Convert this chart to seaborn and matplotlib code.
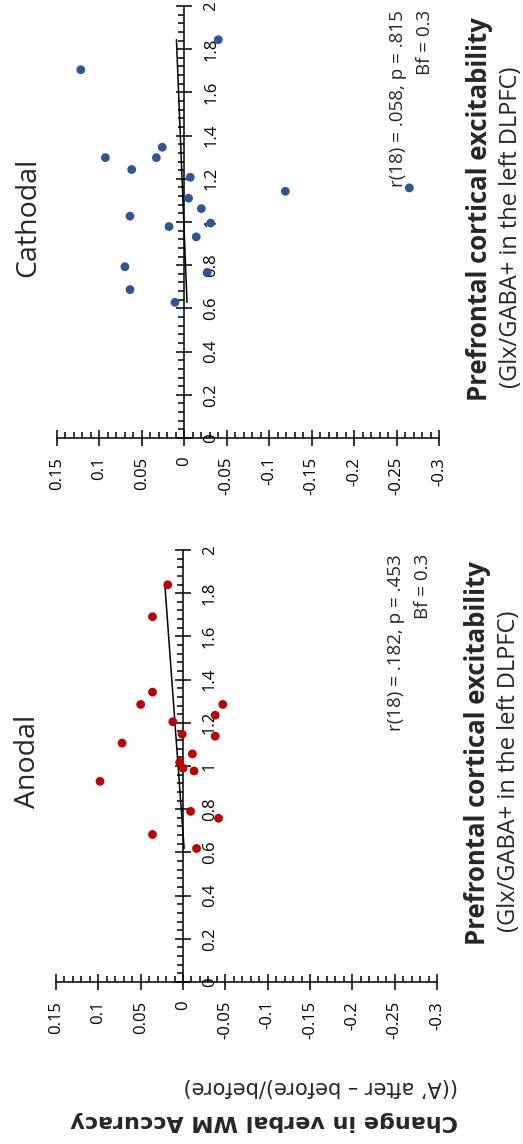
import matplotlib
matplotlib.use("Agg")
import matplotlib.pyplot as plt
import numpy as np
import seaborn as sns

# data: excitability (Glx/GABA+) and change in WM accuracy per participant
anodal_exc = [1.839, 1.691, 1.342, 1.285, 1.285, 1.205, 1.235, 1.147, 1.138, 1.106,
              1.056, 1.017, 0.990, 0.977, 0.929, 0.790, 0.758, 0.683, 0.618]
anodal_change = [0.018, 0.036, 0.036, 0.050, -0.047, 0.012, -0.038, 0.001, -0.038, 0.072,
                 -0.011, 0.004, 0.000, -0.013, 0.098, -0.009, -0.042, 0.036, -0.016]

cathodal_exc = [1.705, 1.844, 1.298, 1.298, 1.346, 1.243, 1.207, 1.110, 1.062, 1.027,
                0.979, 0.995, 0.931, 0.793, 0.767, 0.687, 0.628, 1.142, 1.158]
cathodal_change = [0.122, -0.040, 0.093, 0.033, 0.026, 0.062, -0.007, -0.005, -0.020, 0.064,
                   0.018, -0.031, -0.014, 0.070, -0.027, 0.064, 0.011, -0.119, -0.265]

anodal_stats = ["r(18) = .182, p = .453", "Bf = 0.3"]
cathodal_stats = ["r(18) = .058, p = .815", "Bf = 0.3"]

exc_ticks = [0, 0.2, 0.4, 0.6, 0.8, 1.0, 1.2, 1.4, 1.6, 1.8, 2.0]
exc_labels = ["0", "0.2", "0.4", "0.6", "0.8", "1", "1.2", "1.4", "1.6", "1.8", "2"]
change_ticks = [0.15, 0.1, 0.05, 0, -0.05, -0.1, -0.15, -0.2, -0.25, -0.3]
change_labels = ["0.15", "0.1", "0.05", "0", "-0.05", "-0.1", "-0.15", "-0.2", "-0.25", "-0.3"]

sns.set_style("ticks")
plt.rcParams['font.family'] = ['Open Sans', 'DejaVu Sans']

W, H = 523, 1144
fig = plt.figure(figsize=(W / 100, H / 100), dpi=100)


def box(x0, y0, x1, y1):
    # pixel box (top-left origin) -> figure fraction rect
    return [x0 / W, 1 - y1 / H, (x1 - x0) / W, (y1 - y0) / H]


ax_cat = fig.add_axes(box(57, 6, 439, 438))
ax_ano = fig.add_axes(box(56, 550, 437, 982))

panels = [
    (ax_ano, anodal_exc, anodal_change, "#C00000", "Anodal", anodal_stats),
    (ax_cat, cathodal_exc, cathodal_change, "#2F5597", "Cathodal", cathodal_stats),
]

for ax, exc, change, col, title, stats in panels:
    ax.set_facecolor("none")
    sns.scatterplot(x=change, y=exc, ax=ax, color=col, s=40, edgecolor="none",
                    linewidth=0, zorder=3, clip_on=False)

    # linear fit of change on excitability, drawn over the data range
    slope, icpt = np.polyfit(exc, change, 1)
    xs = np.array([min(exc), max(exc)])
    ax.plot(slope * xs + icpt, xs, color="black", lw=1.1, zorder=2)

    ax.set_xlim(0.15, -0.3)
    ax.set_ylim(0, 2)
    ax.set_xlabel("")
    ax.set_ylabel("")

    ax.spines["top"].set_visible(False)
    ax.spines["left"].set_visible(False)
    ax.spines["right"].set_position(("data", 0))
    for s in ["right", "bottom"]:
        ax.spines[s].set_linewidth(1.1)
        ax.spines[s].set_color("black")
    ax.yaxis.tick_right()

    ax.set_xticks(change_ticks, labels=change_labels)
    ax.set_yticks(exc_ticks, labels=exc_labels)
    ax.set_xticks(np.arange(-0.3, 0.1501, 0.01), minor=True)
    ax.set_yticks(np.arange(0, 2.001, 0.04), minor=True)
    ax.tick_params(which="major", direction="inout", length=11, width=1.1,
                   color="black", labelsize=12, labelcolor="black")
    ax.tick_params(which="minor", direction="in", length=4, width=1.1, color="black")
    ax.tick_params(axis="x", which="major", pad=8, labelrotation=90)
    ax.tick_params(axis="y", which="major", pad=8, labelrotation=90)
    for lab in ax.get_yticklabels():
        lab.set_va("center")
    for lab in ax.get_xticklabels():
        lab.set_va("top")

    ax.text(-0.074, 0.51, title, transform=ax.transAxes, rotation=90,
            ha="center", va="center", fontsize=20.5)
    ax.text(0.892, 0.99, stats[0], transform=ax.transAxes, rotation=90,
            ha="center", va="top", fontsize=13.5)
    ax.text(0.963, 0.99, stats[1], transform=ax.transAxes, rotation=90,
            ha="center", va="top", fontsize=13.5)
    ax.text(1.105, 0.975, "Prefrontal cortical excitability", transform=ax.transAxes,
            rotation=90, ha="center", va="top", fontsize=18.5, fontweight="bold")
    ax.text(1.189, 0.86, "(Glx/GABA+ in the left DLPFC)", transform=ax.transAxes,
            rotation=90, ha="center", va="top", fontsize=17)

fig.text(458 / W, 1 - 1121 / H, "Change in verbal WM Accuracy", rotation=180,
         ha="right", va="center", fontsize=16, fontweight="bold", family=["DejaVu Sans"])
fig.text(458 / W, 1 - 1087 / H, "((A\u2019 after \u2013 before)/before)", rotation=180,
         ha="right", va="center", fontsize=15, family=["DejaVu Sans"])

fig.savefig("out.png", dpi=100)
